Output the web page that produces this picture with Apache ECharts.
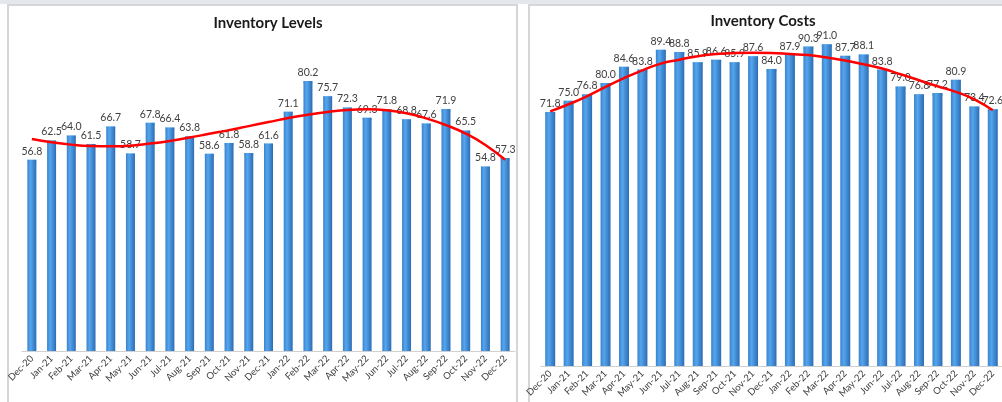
<!DOCTYPE html>
<html>
<head>
<meta charset="utf-8">
<script src="https://cdn.jsdelivr.net/npm/echarts@6/dist/echarts.min.js"></script>
<style>
  html, body { margin: 0; padding: 0; background: #fff; }
  #wrap { position: relative; width: 1002px; height: 402px; overflow: hidden; }
  .strip { position: absolute; left: 0; top: 0; width: 1002px; height: 4px; background: #e4e8ec; }
  .panel { position: absolute; top: 4px; height: 420px; border: 2px solid #d6d6d6; box-sizing: border-box; background: #fff; }
  #main { position: absolute; left: 0; top: 0; width: 1002px; height: 402px; }
</style>
</head>
<body>
<div id="wrap">
  <div class="strip"></div>
  <div class="panel" style="left:7px; width:511px;"></div>
  <div class="panel" style="left:528px; width:500px;"></div>
  <div id="main"></div>
</div>
<script>
// categories
const months = ['Dec-20', 'Jan-21', 'Feb-21', 'Mar-21', 'Apr-21', 'May-21', 'Jun-21', 'Jul-21', 'Aug-21',
  'Sep-21', 'Oct-21', 'Nov-21', 'Dec-21', 'Jan-22', 'Feb-22', 'Mar-22', 'Apr-22', 'May-22', 'Jun-22',
  'Jul-22', 'Aug-22', 'Sep-22', 'Oct-22', 'Nov-22', 'Dec-22']

// inventory levels
const levels = [56.8, 62.5, 64.0, 61.5, 66.7, 58.7, 67.8, 66.4, 63.8, 58.6, 61.8, 58.8, 61.6,
  71.1, 80.2, 75.7, 72.3, 69.3, 71.8, 68.8, 67.6, 71.9, 65.5, 54.8, 57.3]
// trend line
const levelsTrend = [63.0, 62.0, 61.3, 60.9, 60.8, 61.0, 61.6, 62.4, 63.4, 64.5, 65.6, 66.8, 68.0,
  69.2, 70.2, 71.0, 71.6, 71.8, 71.5, 70.6, 69.1, 67.1, 64.6, 61.2, 56.8]

// inventory costs
const costs = [71.8, 75.0, 76.8, 80.0, 84.6, 83.8, 89.4, 88.8, 85.9, 86.6, 85.9, 87.6, 84.0,
  87.9, 90.3, 91.0, 87.7, 88.1, 83.8, 79.0, 76.8, 77.2, 80.9, 73.4, 72.6]
const costsTrend = [72.0, 74.0, 76.3, 78.9, 81.4, 83.6, 85.5, 86.6, 87.6, 88.2, 88.5, 88.6, 88.5,
  88.2, 87.9, 87.2, 86.4, 85.3, 84.1, 82.5, 80.8, 79.1, 77.5, 75.4, 72.3]

const font = 'Lato, "Liberation Sans", sans-serif'
const barFill = new echarts.graphic.LinearGradient(0, 0, 1, 0, [
  { offset: 0, color: '#3b82cc' },
  { offset: 0.35, color: '#54a6ee' },
  { offset: 1, color: '#2c6cb4' },
])

function barSeries(idx, data, width) {
  return [
    {
      type: 'bar',
      xAxisIndex: idx,
      yAxisIndex: idx,
      data: data,
      barWidth: width,
      itemStyle: { color: barFill },
      label: {
        show: true,
        position: 'top',
        distance: 3,
        formatter: (p) => p.value.toFixed(1),
        color: '#404040',
        fontSize: 10.5,
        fontFamily: font,
      },
      z: 2,
    },
    {
      type: 'pictorialBar',
      xAxisIndex: idx,
      yAxisIndex: idx,
      data: data,
      symbol: 'rect',
      symbolSize: [width, 3],
      symbolPosition: 'end',
      itemStyle: { color: '#8fd6f6' },
      silent: true,
      z: 2,
    },
  ]
}

function trendSeries(idx, data) {
  return {
    type: 'line',
    xAxisIndex: idx,
    yAxisIndex: idx,
    data: data,
    smooth: true,
    showSymbol: false,
    lineStyle: { color: '#ff0000', width: 2.5 },
    z: 5,
  }
}

function xAxis(idx) {
  return {
    type: 'category',
    gridIndex: idx,
    data: months,
    axisLine: { lineStyle: { color: '#d0d0d0', width: 1 } },
    axisTick: { show: false },
    axisLabel: { rotate: 45, interval: 0, fontSize: 9.5, color: '#404040', fontFamily: font, margin: 6 },
  }
}

function yAxis(idx, max) {
  return {
    type: 'value',
    gridIndex: idx,
    min: 0,
    max: max,
    show: false,
    splitLine: { show: false },
  }
}

const myChart = echarts.init(document.getElementById('main'))
myChart.setOption({
  animation: false,
  title: [
    {
      text: 'Inventory Levels',
      left: 263,
      top: 11,
      textAlign: 'center',
      textStyle: { fontSize: 15, fontWeight: 'bold', color: '#1a1a1a', fontFamily: font },
    },
    {
      text: 'Inventory Costs',
      left: 758,
      top: 9,
      textAlign: 'center',
      textStyle: { fontSize: 15, fontWeight: 'bold', color: '#1a1a1a', fontFamily: font },
    },
  ],
  grid: [
    { left: 22, top: 48, width: 493, height: 303 },
    { left: 541, top: 30, width: 466, height: 336 },
  ],
  xAxis: [xAxis(0), xAxis(1)],
  yAxis: [yAxis(0, 90), yAxis(1, 95)],
  series: [
    ...barSeries(0, levels, 9),
    trendSeries(0, levelsTrend),
    ...barSeries(1, costs, 10),
    trendSeries(1, costsTrend),
  ],
})
</script>
</body>
</html>
